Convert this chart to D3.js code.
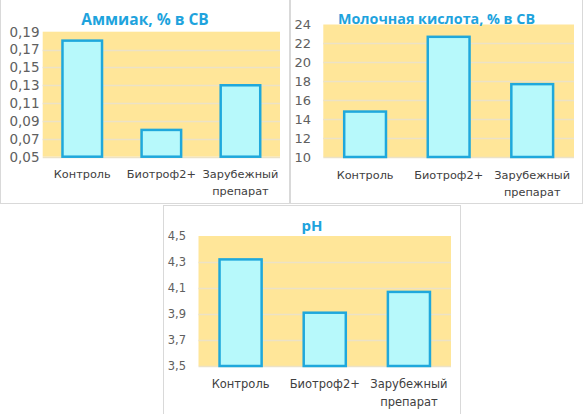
<!DOCTYPE html>
<html>
<head>
<meta charset="utf-8">
<script src="https://cdn.jsdelivr.net/npm/d3@7/dist/d3.min.js"></script>
<style>
  html, body { margin: 0; padding: 0; background: #ffffff; }
  svg { display: block; }
</style>
</head>
<body>
<svg id="chart" width="583" height="414"></svg>
<script>
// ---- data ----
const categories = ["Контроль", "Биотроф2+", "Зарубежный препарат"];

const ammoniaTitle = "Аммиак, % в СВ";
const ammoniaValues = [0.18, 0.08, 0.13];
const ammoniaTicks = [0.05, 0.07, 0.09, 0.11, 0.13, 0.15, 0.17, 0.19];

const lacticTitle = "Молочная кислота, % в СВ";
const lacticValues = [14.8, 22.7, 17.7];
const lacticTicks = [10, 12, 14, 16, 18, 20, 22, 24];

const phTitle = "pH";
const phValues = [4.32, 3.91, 4.07];
const phTicks = [3.5, 3.7, 3.9, 4.1, 4.3, 4.5];

// ---- styling / layout ----
const ru = d3.formatLocale({decimal: ",", thousands: " ", grouping: [3], currency: ["", ""]});

const svg = d3.select("#chart");

function drawPanel(cfg) {
  const g = svg.append("g");
  // panel border
  g.append("rect")
    .attr("x", cfg.panel[0]).attr("y", cfg.panel[1])
    .attr("width", cfg.panel[2] - cfg.panel[0]).attr("height", cfg.panel[3] - cfg.panel[1])
    .attr("fill", "#ffffff").attr("stroke", "#d9d9d9").attr("stroke-width", 1);

  const x = d3.scaleBand().domain(categories)
    .range([cfg.plot[0], cfg.plot[1]])
    .paddingInner(0.5).paddingOuter(0.25);
  const y = d3.scaleLinear().domain([cfg.ticks[0], cfg.ticks[cfg.ticks.length - 1]])
    .range([cfg.plot[3], cfg.plot[2]]);

  // plot background
  g.append("rect")
    .attr("x", cfg.plot[0]).attr("y", cfg.plot[2])
    .attr("width", cfg.plot[1] - cfg.plot[0]).attr("height", cfg.plot[3] - cfg.plot[2])
    .attr("fill", "#ffe699");

  // gridlines
  g.selectAll("line.grid").data(cfg.ticks.slice(0, -1)).enter().append("line")
    .attr("class", "grid")
    .attr("x1", cfg.plot[0]).attr("x2", cfg.plot[1])
    .attr("y1", d => Math.round(y(d)) + 0.5).attr("y2", d => Math.round(y(d)) + 0.5)
    .attr("stroke", "#ece2c6").attr("stroke-width", 1.3);

  // y axis (labels only)
  const yAxis = d3.axisLeft(y).tickValues(cfg.ticks)
    .tickFormat(ru.format(cfg.fmt)).tickSize(0).tickPadding(0);
  const ag = g.append("g")
    .attr("transform", `translate(${cfg.labelX},0)`)
    .call(yAxis);
  ag.select(".domain").remove();
  ag.selectAll("text")
    .attr("fill", "#606060")
    .style("font-family", "DejaVu Sans")
    .style("font-size", cfg.tickSize + "px");

  // bars
  const base = cfg.ticks[0];
  g.selectAll("rect.bar").data(cfg.values).enter().append("rect")
    .attr("class", "bar")
    .attr("x", (d, i) => x(categories[i]))
    .attr("width", x.bandwidth())
    .attr("y", d => y(d))
    .attr("height", d => y(base) - y(d))
    .attr("fill", "#b7f9fb")
    .attr("stroke", "#1fa8dc")
    .attr("stroke-width", 2.5);

  // category labels
  const xAxis = d3.axisBottom(x).tickSize(0).tickPadding(0).tickFormat("");
  const xg = g.append("g").attr("transform", `translate(0,${cfg.catY})`).call(xAxis);
  xg.select(".domain").remove();
  xg.selectAll(".tick").each(function(d) {
    const words = d.split(" ");
    const t = d3.select(this).append("text")
      .attr("fill", "#404040")
      .attr("text-anchor", "middle")
      .style("font-family", "DejaVu Sans")
      .style("font-size", cfg.catSize + "px");
    words.forEach((w, k) => {
      t.append("tspan").attr("x", 0).attr("y", k * cfg.catLine)
        .attr("dy", "0.35em").text(w);
    });
  });

  // title
  g.append("text")
    .attr("x", (cfg.panel[0] + cfg.panel[2]) / 2)
    .attr("y", cfg.titleY)
    .attr("text-anchor", "middle")
    .attr("fill", "#1ea3dd")
    .style("font-family", "Open Sans")
    .style("font-weight", "bold")
    .style("font-size", cfg.titleSize + "px")
    .text(cfg.title);
}

drawPanel({
  panel: [0.5, -1, 289.5, 203.5],
  plot: [42.7, 280, 31.7, 156.7],
  ticks: ammoniaTicks, values: ammoniaValues, fmt: ".2f",
  labelX: 39.5, tickSize: 13.5,
  catY: 174, catLine: 17, catSize: 11.3,
  title: ammoniaTitle, titleY: 25, titleSize: 15.5
});

drawPanel({
  panel: [290.5, -1, 582.5, 203.5],
  plot: [323.3, 574, 24.5, 157],
  ticks: lacticTicks, values: lacticValues, fmt: "d",
  labelX: 311, tickSize: 13,
  catY: 175, catLine: 17.5, catSize: 11.3,
  title: lacticTitle, titleY: 23.5, titleSize: 14.3
});

drawPanel({
  panel: [163.5, 205.5, 460.5, 416],
  plot: [198.5, 451, 236, 366],
  ticks: phTicks, values: phValues, fmt: ".1f",
  labelX: 186, tickSize: 11.5,
  catY: 384, catLine: 17.5, catSize: 11.5,
  title: phTitle, titleY: 231, titleSize: 15
});
</script>
</body>
</html>
